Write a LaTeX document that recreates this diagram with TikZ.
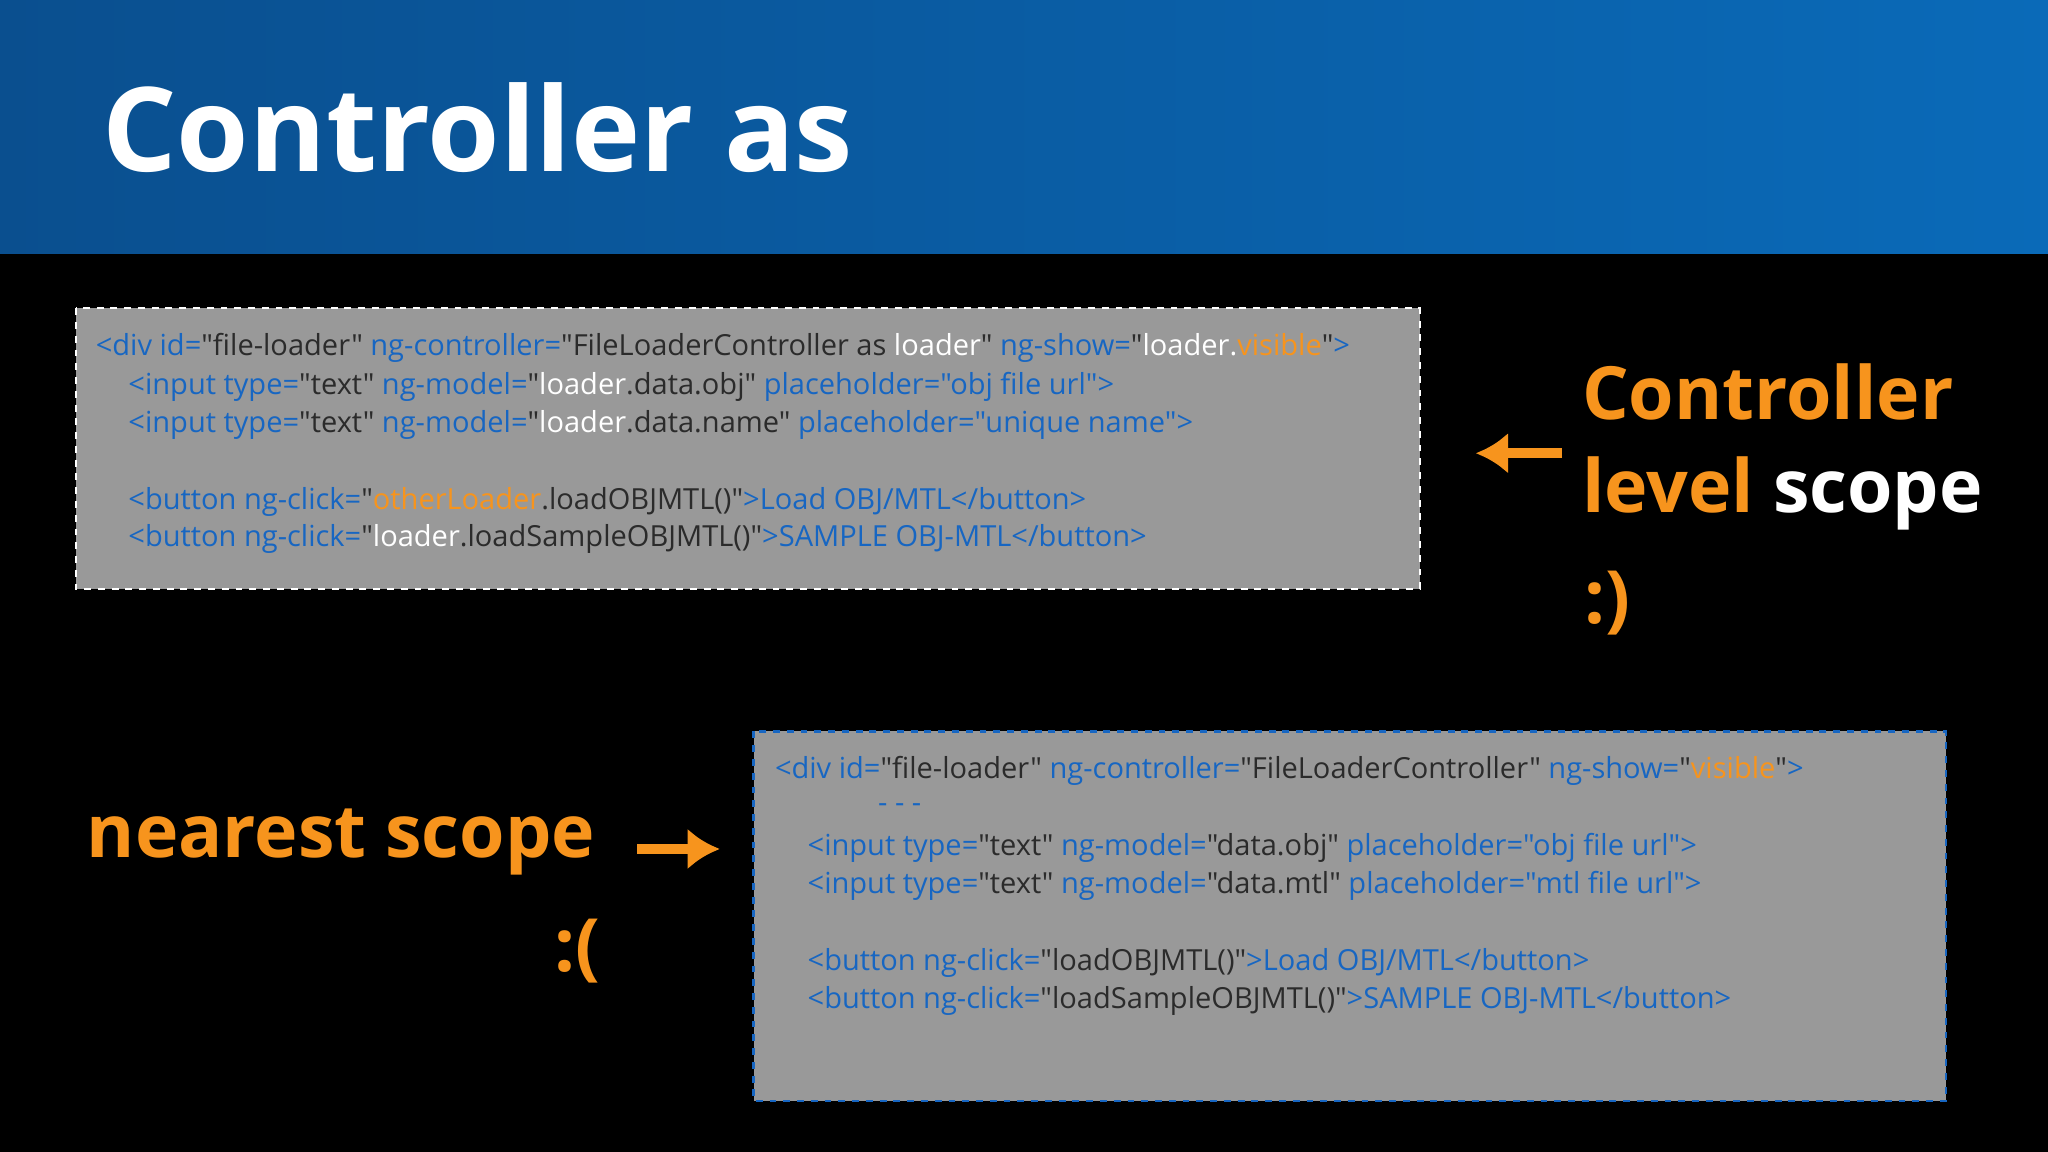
\documentclass[tikz,border=0pt]{standalone}
\usepackage{fontspec}
\setmainfont{Open Sans}[Ligatures=TeXOff]
\usetikzlibrary{positioning,arrows.meta}
\definecolor{codeblue}{HTML}{1766C2}
\definecolor{codedark}{HTML}{2B2B2B}
\definecolor{slideorange}{HTML}{F7941D}
\definecolor{boxgray}{HTML}{999999}
\definecolor{bandleft}{HTML}{0A4F8F}
\definecolor{bandright}{HTML}{0A6AB8}
\newcommand{\cb}[1]{\textcolor{codeblue}{#1}}
\newcommand{\cd}[1]{\textcolor{codedark}{#1}}
\newcommand{\cw}[1]{\textcolor{white}{#1}}
\newcommand{\co}[1]{\textcolor{slideorange}{#1}}
\tikzset{
  codeline/.style={anchor=west, inner sep=0pt, font=\fontsize{12.65}{14}\selectfont},
  bigword/.style={anchor=west, inner sep=0pt, font=\fontsize{32}{36}\selectfont\bfseries, text=slideorange},
  pointer/.style={-{Latex[length=14pt,width=18pt]}, line width=4.5pt, slideorange},
}
\begin{document}
\begin{tikzpicture}[x=0.02cm, y=-0.02cm]
  % Hintergrund
  \fill[black] (0,0) rectangle (1568,882);
  \shade[left color=bandleft, right color=bandright] (0,0) rectangle (1568,194);
  \node[anchor=west, inner sep=0pt, text=white, font=\fontsize{51}{60}\selectfont\bfseries] (title) at (78,98) {Controller as};

  % Kasten oben
  \draw[white, dashed, line width=1pt, fill=boxgray] (58,236) rectangle (1087,451);
  \node[codeline] (a1) at (73,266) {\cb{<div id=}\cd{"file-loader"} \cb{ng-controller=}\cd{"FileLoaderController as }\cw{loader}\cd{"} \cb{ng-show=}\cd{"}\cw{loader.}\co{visible}\cd{"}\cb{>}};
  \node[codeline] (a2) at (98,296) {\cb{<input type=}\cd{"text"} \cb{ng-model=}\cd{"}\cw{loader}\cd{.data.obj"} \cb{placeholder="obj file url">}};
  \node[codeline] (a3) at (98,325) {\cb{<input type=}\cd{"text"} \cb{ng-model=}\cd{"}\cw{loader}\cd{.data.name"} \cb{placeholder="unique name">}};
  \node[codeline] (a4) at (98,384) {\cb{<button ng-click=}\cd{"}\co{otherLoader}\cd{.loadOBJMTL()"}\cb{>Load OBJ/MTL</button>}};
  \node[codeline] (a5) at (98,413) {\cb{<button ng-click=}\cd{"}\cw{loader}\cd{.loadSampleOBJMTL()"}\cb{>SAMPLE OBJ-MTL</button>}};

  % Kasten unten
  \draw[codeblue, dashed, line width=1pt, fill=boxgray] (577,560) rectangle (1490,843);
  \node[codeline] (b1) at (593,590) {\cb{<div id=}\cd{"file-loader"} \cb{ng-controller=}\cd{"FileLoaderController"} \cb{ng-show=}\cd{"}\co{visible}\cd{"}\cb{>}};
  \node[codeline] (b2) at (672,619) {\cb{- - -}};
  \node[codeline] (b3) at (618,649) {\cb{<input type=}\cd{"text"} \cb{ng-model=}\cd{"data.obj"} \cb{placeholder="obj file url">}};
  \node[codeline] (b4) at (618,678) {\cb{<input type=}\cd{"text"} \cb{ng-model=}\cd{"data.mtl"} \cb{placeholder="mtl file url">}};
  \node[codeline] (b5) at (618,737) {\cb{<button ng-click=}\cd{"loadOBJMTL()"}\cb{>Load OBJ/MTL</button>}};
  \node[codeline] (b6) at (618,766) {\cb{<button ng-click=}\cd{"loadSampleOBJMTL()"}\cb{>SAMPLE OBJ-MTL</button>}};

  % Beschriftungen
  \node[bigword] (ctrl) at (1211,300) {Controller};
  \node[bigword] (level) at (1211,378) {level \cw{scope}};
  \node[bigword] (happy) at (1213,462) {:)};
  \node[bigword, anchor=east] (near) at (456,645) {nearest scope};
  \node[bigword, anchor=east] (sad) at (460,728) {:(};
  \coordinate (ra) at (1196,347);
  \coordinate (rb) at (1130,347);
  \coordinate (la) at (488,650);
  \coordinate (lb) at (551,650);
  \draw[pointer] (ra) -- (rb);
  \draw[pointer] (la) -- (lb);
\end{tikzpicture}
\end{document}
